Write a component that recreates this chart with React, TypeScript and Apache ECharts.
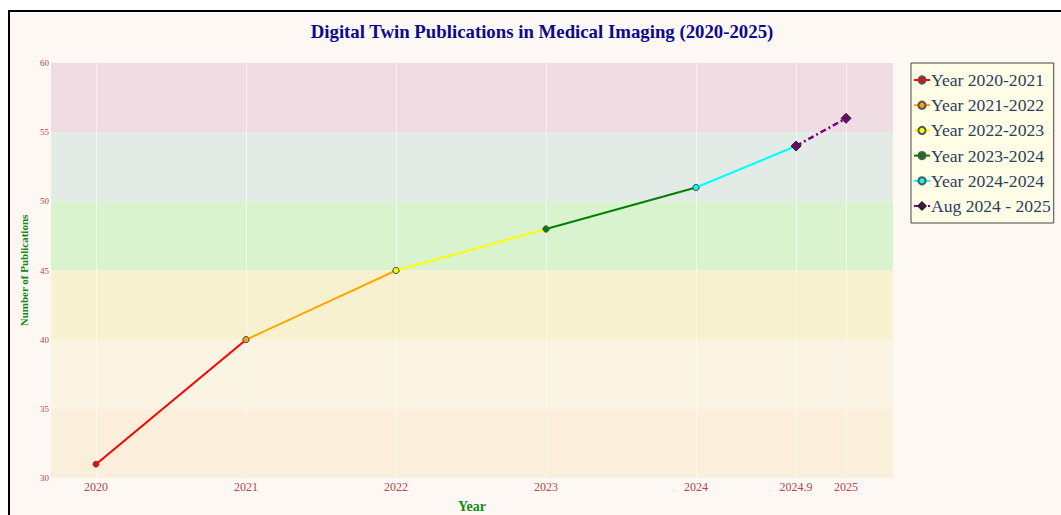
import React, { useEffect, useRef } from "react";
import * as echarts from "echarts";

const pointX = [2020, 2021, 2022, 2023, 2024, 2024.667, 2025];
const pointY = [31, 40, 45, 48, 51, 54, 56];
const xTickLabels = ["2020", "2021", "2022", "2023", "2024", "2024.9", "2025"];
const segmentNames = [
  "Year 2020-2021",
  "Year 2021-2022",
  "Year 2022-2023",
  "Year 2023-2024",
  "Year 2024-2024",
  "Aug 2024 - 2025",
];
const segmentColors = ["#ff0000", "#ffa500", "#ffff00", "#008000", "#00ffff", "#800080"];
const bandRanges = [
  [55, 60],
  [50, 55],
  [45, 50],
  [40, 45],
  [35, 40],
  [30, 35],
];
const bandColors = ["#f0dce3", "#e3ebe6", "#d9f3cf", "#f8f1d0", "#fbf4e3", "#fbeedb"];

export default function App() {
  const ref = useRef<HTMLDivElement>(null);
  useEffect(() => {
    if (!ref.current) return;
    const chart = echarts.init(ref.current, undefined, { renderer: "svg" });
    const font = "'Liberation Serif', 'Times New Roman', serif";
    const series: any[] = [];
    series.push({
      type: "line",
      name: "bands",
      data: [],
      silent: true,
      z: 0,
      markArea: {
        silent: true,
        data: bandRanges.map((r, i) => [
          { yAxis: r[0], itemStyle: { color: bandColors[i] } },
          { yAxis: r[1] },
        ]),
      },
      markLine: {
        silent: true,
        symbol: "none",
        label: { show: false },
        lineStyle: { color: "rgba(255,255,255,0.55)", width: 1, type: "solid" },
        data: pointX.map((v) => ({ xAxis: v })),
      },
    });
    segmentNames.forEach((name, i) => {
      const last = i === segmentNames.length - 1;
      series.push({
        type: "line",
        name,
        data: [
          [pointX[i], pointY[i]],
          [pointX[i + 1], pointY[i + 1]],
        ],
        z: 5 + i,
        symbol: last ? "diamond" : "circle",
        symbolSize: last ? 10 : 6,
        showAllSymbol: true,
        lineStyle: {
          color: segmentColors[i],
          width: last ? 2.5 : 2,
          type: last ? [6, 3, 2, 3] : "solid",
        },
        itemStyle: {
          color: last ? "#6a0a6a" : segmentColors[i],
          borderColor: last ? "#222" : "#555",
          borderWidth: 1,
        },
      });
    });
    chart.setOption({
      animation: false,
      backgroundColor: "#fdf8f4",
      title: {
        text: "Digital Twin Publications in Medical Imaging (2020-2025)",
        left: 527,
        textAlign: "center",
        top: 5,
        textStyle: { fontFamily: font, fontSize: 18.8, fontWeight: "bold", color: "#0a0a8c" },
      },
      legend: {
        orient: "vertical",
        left: 901,
        top: 51,
        data: segmentNames,
        backgroundColor: "#fffde6",
        borderColor: "#444",
        borderWidth: 1,
        borderRadius: 0,
        padding: [8, 3, 8, 2],
        itemGap: 7.2,
        itemWidth: 16,
        itemHeight: 9,
        textStyle: { fontFamily: font, fontSize: 17.6, color: "#2a3f5f", padding: [0, 0, 0, -4] },
      },
      grid: { left: 41, top: 51, width: 842, height: 415, containLabel: false },
      xAxis: {
        type: "value",
        min: 2019.7,
        max: 2025.313,
        name: "Year",
        nameLocation: "middle",
        nameGap: 21,
        nameTextStyle: { fontFamily: font, fontSize: 14, fontWeight: "bold", color: "#118811" },
        axisLine: { show: false },
        axisTick: { show: false, customValues: pointX },
        splitLine: { show: false },
        axisLabel: {
          customValues: pointX,
          margin: 3,
          fontFamily: font,
          fontSize: 12,
          color: "#b44848",
          formatter: (v: number) => {
            const idx = pointX.findIndex((p) => Math.abs(p - v) < 0.01);
            return idx >= 0 ? xTickLabels[idx] : "";
          },
        },
      },
      yAxis: {
        type: "value",
        min: 30,
        max: 60,
        interval: 5,
        name: "Number of Publications",
        nameLocation: "middle",
        nameGap: 20,
        nameTextStyle: { fontFamily: font, fontSize: 11, fontWeight: "bold", color: "#118811" },
        axisLine: { show: false },
        axisTick: { show: false },
        splitLine: { show: true, lineStyle: { color: "rgba(255,255,255,0.6)", width: 1 } },
        axisLabel: { margin: 2, fontFamily: font, fontSize: 9, color: "#b44848" },
      },
      series,
    });
    return () => chart.dispose();
  }, []);
  return (
    <div
      style={{
        position: "fixed",
        left: 0,
        top: 0,
        width: 1061,
        height: 515,
        overflow: "hidden",
        background: "#ffffff",
      }}
    >
      <div
        style={{
          position: "absolute",
          left: 8,
          top: 10,
          border: "2px solid #000",
          width: 1100,
          height: 540,
          background: "#fdf8f4",
        }}
      >
        <div ref={ref} style={{ width: 1100, height: 540 }} />
      </div>
    </div>
  );
}
